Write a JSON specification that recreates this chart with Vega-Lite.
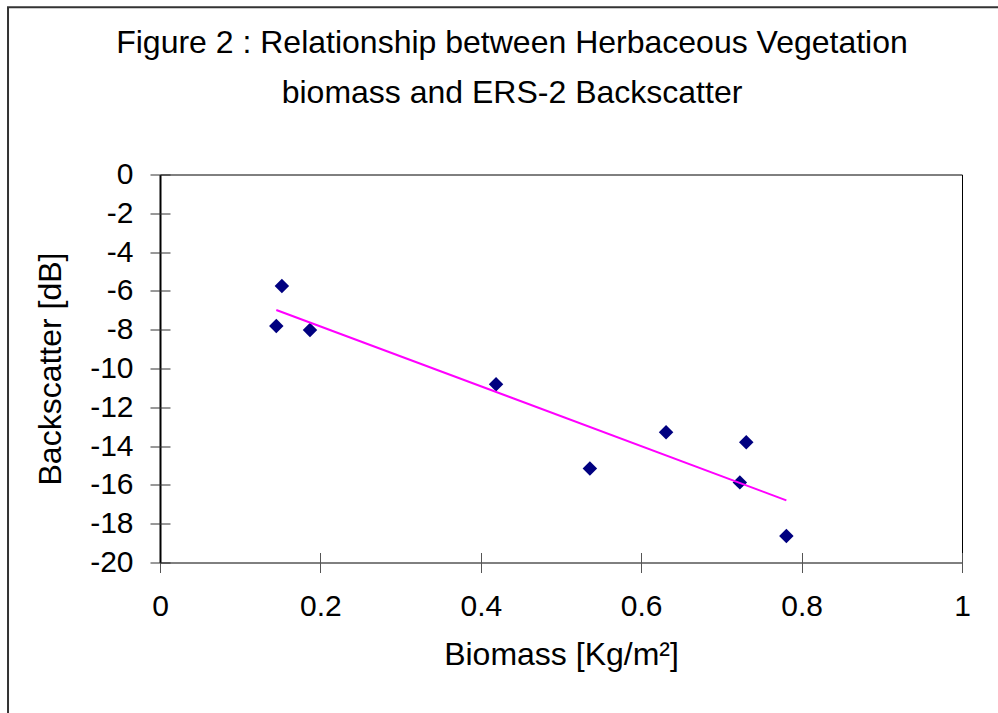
{
  "$schema": "https://vega.github.io/schema/vega-lite/v6.json",
  "width": 802,
  "height": 388,
  "autosize": {"type": "none"},
  "padding": {"left": 160, "top": 174.5, "right": 36, "bottom": 150.5},
  "background": "white",
  "config": {
    "font": "Liberation Sans",
    "view": {"stroke": "black", "strokeWidth": 1}
  },
  "title": {
    "text": ["Figure 2 : Relationship between Herbaceous Vegetation", "biomass and ERS-2 Backscatter"],
    "fontSize": 32,
    "fontWeight": "normal",
    "color": "black",
    "anchor": "middle",
    "frame": "group",
    "dx": -49,
    "lineHeight": 50,
    "offset": -104
  },
  "data": {
    "values": [
      {"biomass": 0.145, "backscatter": -7.81},
      {"biomass": 0.152, "backscatter": -5.75},
      {"biomass": 0.187, "backscatter": -8.02},
      {"biomass": 0.419, "backscatter": -10.81},
      {"biomass": 0.536, "backscatter": -15.15},
      {"biomass": 0.631, "backscatter": -13.29},
      {"biomass": 0.723, "backscatter": -15.87},
      {"biomass": 0.731, "backscatter": -13.80},
      {"biomass": 0.781, "backscatter": -18.63}
    ]
  },
  "resolve": {"axis": {"x": "independent", "y": "independent"}},
  "layer": [
    {
      "data": {"values": [{}]},
      "mark": {"type": "rect", "fill": null, "stroke": "#333333", "strokeWidth": 2, "clip": false},
      "encoding": {
        "x": {"datum": -0.1895, "type": "quantitative", "axis": null, "scale": {"domain": [0, 1], "nice": false}},
        "x2": {"datum": 1.2},
        "y": {"datum": 8.62, "type": "quantitative", "axis": null, "scale": {"domain": [-20, 0], "nice": false}},
        "y2": {"datum": -40}
      }
    },
    {
      "mark": {"type": "point", "shape": "diamond", "filled": true, "color": "#000080", "size": 210, "opacity": 1},
      "encoding": {
        "x": {
          "field": "biomass", "type": "quantitative",
          "scale": {"domain": [0, 1], "nice": false},
          "axis": {
            "title": "Biomass [Kg/m²]",
            "values": [0, 0.2, 0.4, 0.6, 0.8, 1],
            "labelExpr": "'' + datum.value",
            "labelFlush": false,
            "labelOverlap": false,
            "grid": false,
            "domain": false,
            "ticks": false,
            "labelFontSize": 30,
            "labelColor": "black",
            "labelPadding": 29,
            "titleFontSize": 32,
            "titleFontWeight": "normal",
            "titleColor": "black",
            "titlePadding": 18
          }
        },
        "y": {
          "field": "backscatter", "type": "quantitative",
          "scale": {"domain": [-20, 0], "nice": false},
          "axis": {
            "title": "Backscatter [dB]",
            "values": [0, -2, -4, -6, -8, -10, -12, -14, -16, -18, -20],
            "labelExpr": "'' + datum.value",
            "labelFlush": false,
            "labelOverlap": false,
            "grid": false,
            "domain": true,
            "domainColor": "black",
            "domainWidth": 2,
            "ticks": false,
            "labelFontSize": 30,
            "labelColor": "black",
            "labelPadding": 27,
            "titleFontSize": 32,
            "titleFontWeight": "normal",
            "titleColor": "black",
            "titlePadding": 22
          }
        }
      }
    },
    {
      "transform": [{"regression": "backscatter", "on": "biomass", "method": "linear"}],
      "mark": {"type": "line", "color": "#FF00FF", "strokeWidth": 2},
      "encoding": {
        "x": {
          "field": "biomass", "type": "quantitative",
          "axis": {
            "orient": "bottom",
            "offset": -10,
            "values": [0, 0.2, 0.4, 0.6, 0.8, 1],
            "tickSize": 20,
            "tickColor": "#555555",
            "tickWidth": 1,
            "labels": false,
            "domain": false,
            "grid": false,
            "title": null
          }
        },
        "y": {
          "field": "backscatter", "type": "quantitative",
          "axis": {
            "orient": "left",
            "offset": -10,
            "values": [0, -2, -4, -6, -8, -10, -12, -14, -16, -18, -20],
            "tickSize": 20,
            "tickColor": "#333333",
            "tickWidth": 1,
            "labels": false,
            "domain": false,
            "grid": false,
            "title": null
          }
        }
      }
    }
  ]
}
